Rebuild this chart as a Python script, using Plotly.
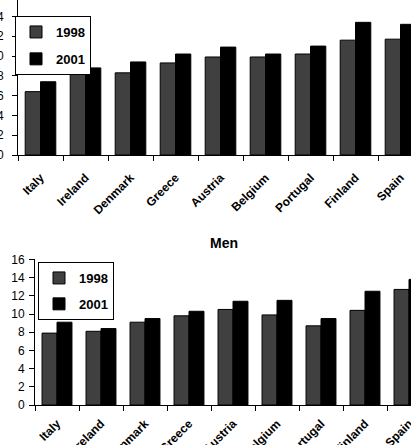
import plotly.graph_objects as go

countries = ["Italy", "Ireland", "Denmark", "Greece", "Austria", "Belgium", "Portugal", "Finland", "Spain"]
top_1998 = [6.4, 8.2, 8.3, 9.3, 9.9, 9.9, 10.2, 11.6, 11.7]
top_2001 = [7.4, 8.8, 9.4, 10.2, 10.9, 10.2, 11.0, 13.4, 13.2]
men_1998 = [7.9, 8.1, 9.1, 9.8, 10.5, 9.9, 8.7, 10.4, 12.7]
men_2001 = [9.1, 8.4, 9.5, 10.3, 11.4, 11.5, 9.5, 12.5, 13.8]
y_ticks = [0, 2, 4, 6, 8, 10, 12, 14, 16]
series_names = ["1998", "2001"]
bar_colors = ["#404040", "#000000"]

W, H = 411, 445
FONT = "Liberation Sans, Arial, sans-serif"

fig = go.Figure()
for name, vals, col in zip(series_names, [top_1998, top_2001], bar_colors):
    fig.add_trace(go.Bar(x=countries, y=vals, name=name, marker=dict(color=col, line=dict(color="black", width=1)),
                         xaxis="x", yaxis="y", legend="legend", legendgroup="t" + name))
for name, vals, col in zip(series_names, [men_1998, men_2001], bar_colors):
    fig.add_trace(go.Bar(x=countries, y=vals, name=name, marker=dict(color=col, line=dict(color="black", width=1)),
                         xaxis="x2", yaxis="y2", legend="legend2", legendgroup="b" + name))

# pixel geometry
top_zero, top_scale, top_axis_x, top_step = 155, 9.9, 18, 45
bot_zero, bot_scale, bot_axis_x, bot_step = 405, 9.1, 35, 44.0

xcommon = dict(type="category", showline=True, linecolor="black", linewidth=1, ticks="outside", ticklen=5,
               tickcolor="black", tickson="boundaries", tickangle=-45, automargin=False,
               tickfont=dict(family=FONT, size=12, color="black", weight="bold"), showgrid=False)
ycommon = dict(showline=True, linecolor="black", linewidth=1, ticks="outside", ticklen=5, tickcolor="black",
               tickvals=y_ticks, automargin=False, showgrid=False, zeroline=False,
               tickfont=dict(family=FONT, size=12, color="black"))

fig.update_layout(
    width=W, height=H, margin=dict(l=0, r=0, t=0, b=0),
    paper_bgcolor="white", plot_bgcolor="white",
    barmode="group", bargap=0.32, bargroupgap=0,
    xaxis=dict(**xcommon, domain=[top_axis_x / W, 1], anchor="y", ticklabelstandoff=10,
               range=[-0.5, (W - top_axis_x) / top_step - 0.5]),
    yaxis=dict(**ycommon, domain=[(H - top_zero) / H, 1], anchor="x",
               range=[0, top_zero / top_scale], ticklabelstandoff=6),
    xaxis2=dict(**xcommon, domain=[bot_axis_x / W, 1], anchor="y2", ticklabelstandoff=6,
                range=[-0.5, (W - bot_axis_x) / bot_step - 0.5]),
    yaxis2=dict(**ycommon, domain=[(H - bot_zero) / H, (H - bot_zero + 16 * bot_scale) / H], anchor="x2",
                range=[0, 16], ticklabelstandoff=2),
    legend=dict(x=15 / W, y=(H - 16) / H, xanchor="left", yanchor="top", bgcolor="white",
                bordercolor="black", borderwidth=1, tracegroupgap=7,
                font=dict(family=FONT, size=13, color="black", weight="bold")),
    legend2=dict(x=38 / W, y=(H - 262) / H, xanchor="left", yanchor="top", bgcolor="white",
                 bordercolor="black", borderwidth=1, tracegroupgap=6,
                 font=dict(family=FONT, size=13, color="black", weight="bold")),
    annotations=[dict(text="Men", x=224 / W, y=(H - 243) / H, xref="paper", yref="paper", showarrow=False,
                      xanchor="center", yanchor="middle",
                      font=dict(family=FONT, size=14, color="black", weight="bold"))],
    showlegend=True,
)

fig.write_html("out.html")
